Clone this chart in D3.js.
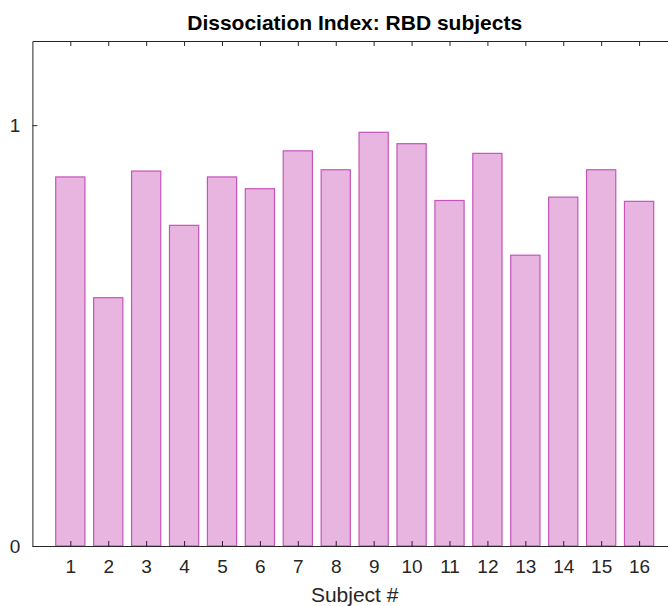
<!DOCTYPE html>
<html lang="en">
	<head>
		<meta charset="utf-8">
		<title>Dissociation Index</title>
		<script src="https://d3js.org/d3.v7.min.js"></script>
		<style>
			body { margin:0; background:#fff; }
			text { font-family:"Liberation Sans", Arial, sans-serif; fill:#262626; }
			.bar { fill:#e8b4e0; stroke:#c654ba; stroke-width:1.2; }
			.axis path, .axis line { stroke:#262626; }
		</style>
	</head>
	<body>
		<script type="text/javascript">

			// data
			var subjects = [1,2,3,4,5,6,7,8,9,10,11,12,13,14,15,16];
			var dissociation = [0.877,0.590,0.891,0.762,0.877,0.849,0.939,0.894,0.983,0.956,0.821,0.933,0.691,0.829,0.894,0.819];
			var yTicks = [0, 1];

			const w = 668, h = 606;
			const mLeft = 32.4, mRight = 677, mTop = 41, mBottom = 546;

			var svg = d3.select("body").append("svg")
						.attr("width", w)
						.attr("height", h);

			var xScale = d3.scaleLinear().domain([0, 17]).range([mLeft, mRight]);
			var yScale = d3.scaleLinear().domain([0, 1.2]).range([mBottom, mTop]);
			var bw = (xScale(1) - xScale(0)) * 0.77;

			// bars
			svg.selectAll("rect.bar")
			   .data(subjects)
			   .enter()
			   .append("rect")
			   .attr("class", "bar")
			   .attr("x", (d) => xScale(d) - bw/2)
			   .attr("width", bw)
			   .attr("y", (d, i) => yScale(dissociation[i]))
			   .attr("height", (d, i) => yScale(0) - yScale(dissociation[i]));

			// axes (ticks inside, like matlab)
			var xAxis = d3.axisBottom(xScale).tickValues(subjects).tickSizeInner(-5).tickSizeOuter(0).tickPadding(14);
			var xTop = d3.axisTop(xScale).tickValues(subjects).tickSizeInner(-5).tickSizeOuter(0).tickFormat("");
			var yAxis = d3.axisLeft(yScale).tickValues(yTicks).tickFormat(d3.format("d"))
						  .tickSizeInner(-5).tickSizeOuter(0).tickPadding(12);

			svg.append("g")
			   .attr("class", "axis")
			   .attr("transform", "translate(0," + mBottom + ")")
			   .call(xAxis)
			   .selectAll("text").style("font-size", "19px");

			svg.append("g")
			   .attr("class", "axis")
			   .attr("transform", "translate(0," + mTop + ")")
			   .call(xTop);

			svg.append("g")
			   .attr("class", "axis")
			   .attr("transform", "translate(" + mLeft + ",0)")
			   .call(yAxis)
			   .selectAll("text").style("font-size", "19px");

			// labels
			svg.append("text")
			   .attr("x", (mLeft + mRight) / 2)
			   .attr("y", 30)
			   .attr("text-anchor", "middle")
			   .style("font-size", "21px")
			   .style("font-weight", "bold")
			   .style("fill", "#000")
			   .text("Dissociation Index: RBD subjects");

			svg.append("text")
			   .attr("x", (mLeft + mRight) / 2)
			   .attr("y", 602)
			   .attr("text-anchor", "middle")
			   .style("font-size", "21px")
			   .text("Subject #");

		</script>
	</body>
</html>
